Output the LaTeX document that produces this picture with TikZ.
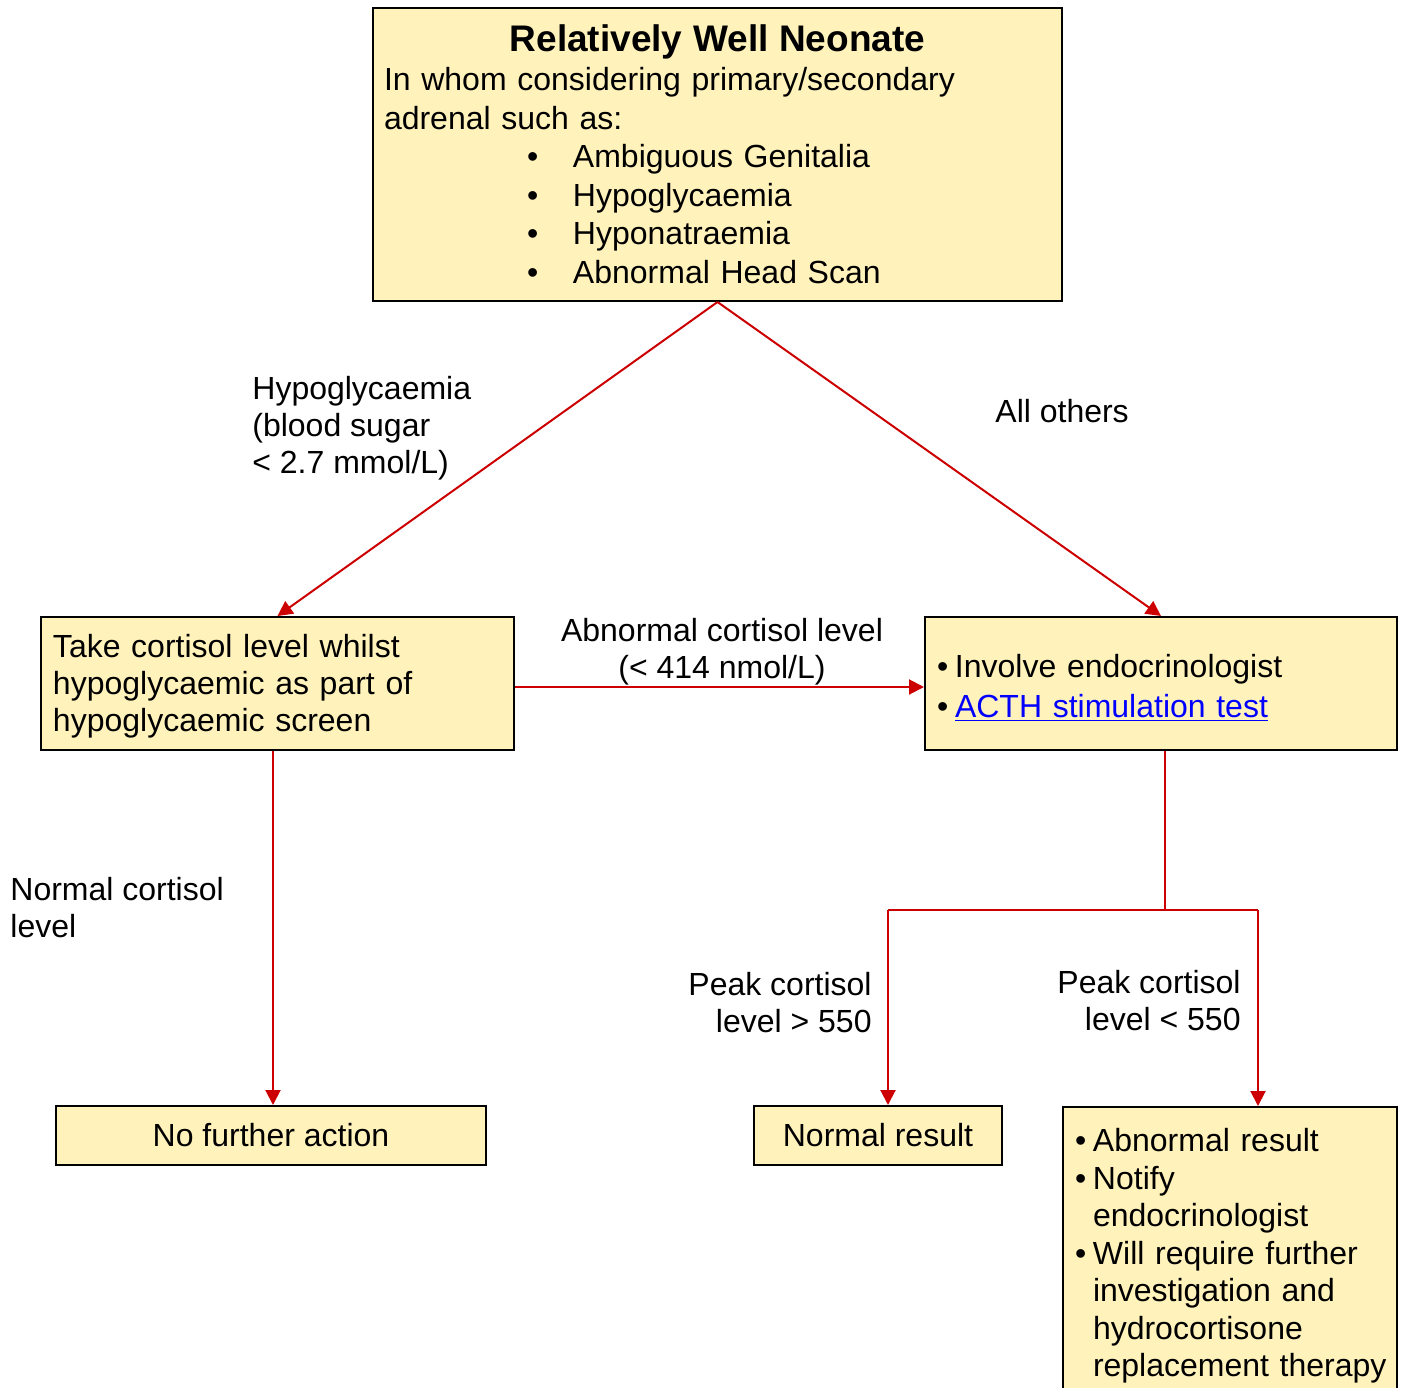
\documentclass[tikz,border=0pt]{standalone}
\usepackage{fontspec}
\setmainfont{Liberation Sans}
\usetikzlibrary{arrows.meta}
\definecolor{boxfill}{RGB}{255,242,187}
\definecolor{linered}{RGB}{204,0,0}
\definecolor{linkblue}{RGB}{0,0,255}
\newcommand{\bul}{\makebox[9pt][l]{\textbullet}}
\newcommand{\bigbul}{\hspace*{71.5pt}\makebox[23pt][l]{\textbullet}}
\begin{document}
\begin{tikzpicture}[x=0.5pt,y=-0.5pt,
  box/.style={draw=black, line width=1pt, fill=boxfill, inner sep=0pt, align=left,
    font=\fontsize{16}{18.5}\selectfont},
  lbl/.style={inner sep=0pt, font=\fontsize{16}{18.5}\selectfont},
  conn/.style={draw=linered, line width=1pt},
  arr/.style={conn, -{Triangle[length=7.5pt,width=7.5pt]}}]
\useasboundingbox (0,0) rectangle (1405,1388);
\clip (0,0) rectangle (1405,1388);

% boxes
\node[box, minimum width=344.5pt, minimum height=146.5pt, text width=333.5pt,
  font=\fontsize{16}{19.3}\selectfont] (top) at (717.5,154.5)
  {\makebox[333.5pt]{\bfseries\fontsize{18.5}{22}\selectfont Relatively Well Neonate}\\
   In whom considering primary/secondary\\
   adrenal such as:\\
   \bigbul Ambiguous Genitalia\\
   \bigbul Hypoglycaemia\\
   \bigbul Hyponatraemia\\
   \bigbul Abnormal Head Scan};

\node[box, minimum width=236.5pt, minimum height=66.5pt, text width=224.5pt] (take) at (277.5,683.5)
  {\rule{0pt}{14.7pt}Take cortisol level whilst\\hypoglycaemic as part of\\hypoglycaemic screen};

\node[box, minimum width=236pt, minimum height=66.5pt, text width=224pt,
  font=\fontsize{16}{20}\selectfont] (invol) at (1161,683.5)
  {\rule{0pt}{15.7pt}\bul Involve endocrinologist\\
   \bul{\color{linkblue}\underline{ACTH stimulation test}}};

\node[box, minimum width=215pt, minimum height=29.5pt, align=center] (nofa) at (271,1135.5) {No further action};
\node[box, minimum width=124pt, minimum height=29.5pt, align=center] (normr) at (878,1135.5) {Normal result};

\node[box, anchor=north, minimum width=167pt, minimum height=148.75pt, text width=155pt,
  font=\fontsize{16}{18.75}\selectfont] (abnr) at (1230,1106)
  {\mbox{\bul Abnormal result}\\
   \mbox{\bul Notify}\\
   \mbox{\hspace*{9pt}endocrinologist}\\
   \mbox{\bul Will require further}\\
   \mbox{\hspace*{9pt}investigation and}\\
   \mbox{\hspace*{9pt}hydrocortisone}\\
   \mbox{\hspace*{9pt}replacement therapy}};

% labels
\node[lbl, anchor=west, align=left] (lhypo) at (252,428) {Hypoglycaemia\\(blood sugar\\< 2.7 mmol/L)};
\node[lbl, anchor=west] (lall) at (995,411) {All others};
\node[lbl, align=center] (labn) at (722,652) {Abnormal cortisol level\\(< 414 nmol/L)};
\node[lbl, anchor=west, align=left] (lnorm) at (10,908) {Normal cortisol\\level};
\node[lbl, anchor=east, align=right] (lpk1) at (872,1003) {Peak cortisol\\level > 550};
\node[lbl, anchor=east, align=right] (lpk2) at (1241,1001) {Peak cortisol\\level < 550};

% connectors
\coordinate (jl) at (888,910);
\coordinate (jr) at (1258,910);
\coordinate (split) at (1165,910);

\draw[arr] (top.south) -- (take.north);
\draw[arr] (top.south) -- (invol.north);
\draw[arr] ([yshift=-1.75pt]take.east) -- ([yshift=-1.75pt]invol.west);
\draw[arr] (take.south -| 273,0) -- (nofa.north -| 273,0);
\draw[conn] (invol.south -| split) -- (split);
\draw[conn] (jl) -- (jr);
\draw[arr] (jl) -- (jl |- normr.north);
\draw[arr] (jr) -- (jr |- abnr.north);
\end{tikzpicture}
\end{document}
